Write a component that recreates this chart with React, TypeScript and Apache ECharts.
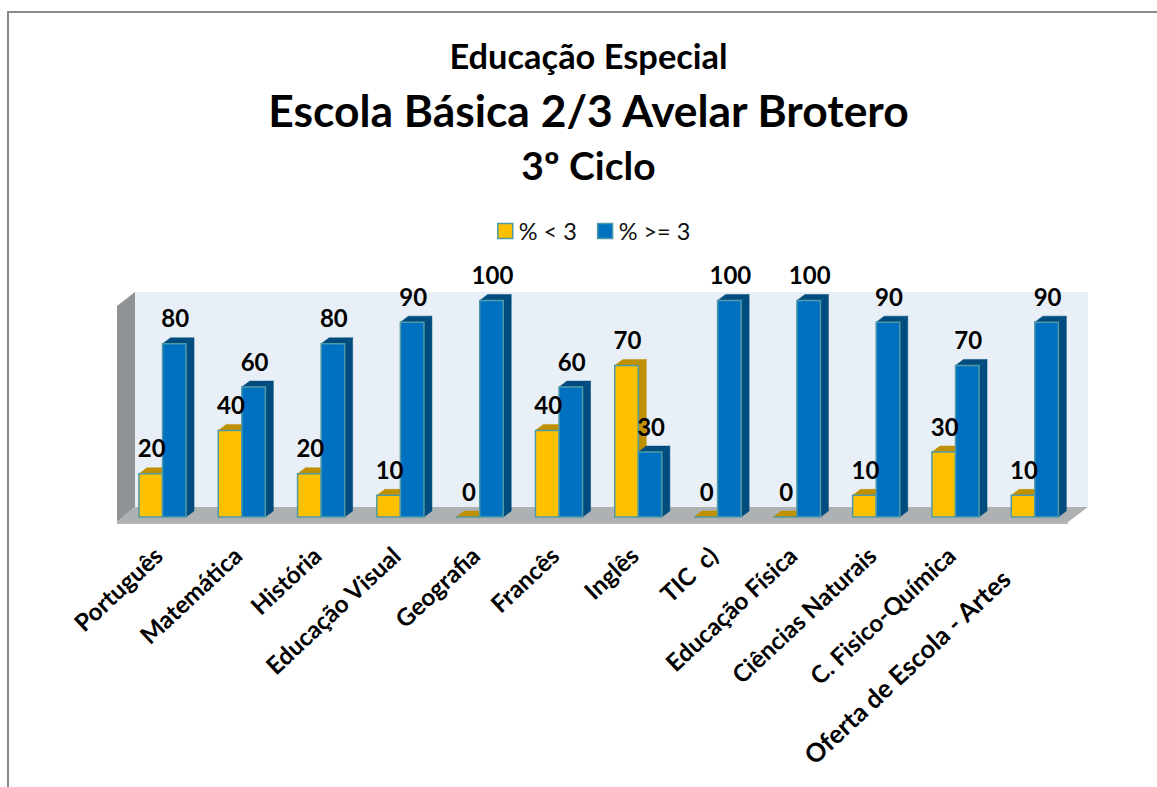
import React, { useEffect, useRef } from "react";
import * as echarts from "echarts";

const categories = ["Português", "Matemática", "História", "Educação Visual", "Geografia", "Francês", "Inglês", "TIC  c)", "Educação Física", "Ciências Naturais", "C. Fisico-Química", "Oferta de Escola - Artes"];
const below3 = [20, 40, 20, 10, 0, 40, 70, 0, 0, 10, 30, 10];
const atLeast3 = [80, 60, 80, 90, 100, 60, 30, 100, 100, 90, 70, 90];
const seriesNames = ["% < 3", "% >= 3"];
const titles = ["Educação Especial", "Escola Básica 2/3 Avelar Brotero", "3º Ciclo"];

const FONT = "Lato";
const DX = 8;
const DY = 6;
const BORDER = "#4F9AA6";

function barItem(side: number, front: string, dark: string) {
  return (params: any, api: any) => {
    const band = api.size([1, 0])[0];
    const w = band * 0.297;
    const cat = api.value(0);
    const top = api.coord([cat, api.value(1)]);
    const base = api.coord([cat, 0]);
    const x = side < 0 ? top[0] - w : top[0];
    const y = top[1];
    const b = base[1];
    const st = { stroke: BORDER, lineWidth: 1.5 };
    return {
      type: "group",
      children: [
        { type: "polygon", shape: { points: [[x, y], [x + DX, y - DY], [x + w + DX, y - DY], [x + w, y]] }, style: { fill: dark, stroke: dark, lineWidth: 0.5 } },
        { type: "polygon", shape: { points: [[x + w, y], [x + w + DX, y - DY], [x + w + DX, b - DY], [x + w, b]] }, style: { fill: dark, stroke: dark, lineWidth: 0.5 } },
        { type: "rect", shape: { x, y, width: w, height: b - y }, style: { fill: front, ...st } },
      ],
    };
  };
}

function labelItem(side: number) {
  return (params: any, api: any) => {
    const band = api.size([1, 0])[0];
    const w = band * 0.297;
    const p = api.coord([api.value(0), api.value(1)]);
    return {
      type: "text",
      x: p[0] + side * w / 2 + 1,
      y: p[1] - 26,
      z2: 100,
      style: { text: String(api.value(1)), fill: "#000", font: `bold 24px ${FONT}`, align: "center", verticalAlign: "middle" },
    };
  };
}

const toData = (values: number[]) => values.map((v, i) => [i, v]);

export default function App() {
  const ref = useRef<HTMLDivElement>(null);
  useEffect(() => {
    document.body.style.margin = "0";
    document.body.style.overflow = "hidden";
    const chart = echarts.init(ref.current!, undefined, { renderer: "svg" });
    const labelFont = { fontFamily: FONT, fontWeight: "bold", fontSize: 24.2, color: "#000" };
    chart.setOption({
      animation: false,
      backgroundColor: "#fff",
      title: [
        { text: titles[0], left: 583.5, top: 50, textAlign: "center", textVerticalAlign: "middle", textStyle: { fontFamily: FONT, fontWeight: "bold", fontSize: 34.4, color: "#000" } },
        { text: titles[1], left: 583.5, top: 104, textAlign: "center", textVerticalAlign: "middle", textStyle: { fontFamily: FONT, fontWeight: "bold", fontSize: 44.4, color: "#000" } },
        { text: titles[2], left: 583.5, top: 160, textAlign: "center", textVerticalAlign: "middle", textStyle: { fontFamily: FONT, fontWeight: "bold", fontSize: 39, color: "#000" } },
      ],
      legend: {
        left: 492,
        top: 214,
        itemWidth: 15,
        itemHeight: 15,
        itemGap: 20,
        icon: "rect",
        textStyle: { fontFamily: FONT, fontSize: 23.5, color: "#111", padding: [0, 0, 0, 1] },
        data: [
          { name: seriesNames[0], itemStyle: { color: "#FFC000", borderColor: BORDER, borderWidth: 1.5 } },
          { name: seriesNames[1], itemStyle: { color: "#0070C0", borderColor: BORDER, borderWidth: 1.5 } },
        ],
      },
      grid: { left: 122.85, width: 951.6, top: 300.5, height: 216.5 },
      xAxis: {
        type: "category",
        data: categories,
        axisLine: { show: false },
        axisTick: { show: false },
        axisLabel: {
          rotate: 43,
          interval: 0,
          margin: 30,
          ...labelFont,
          formatter: (v: string, i: number) => (i === categories.length - 1 ? `{far|${v}}` : `{near|${v}}`),
          rich: {
            far: { padding: [0, 40, 0, 0], ...labelFont, fontSize: 25.6 },
            near: { padding: [0, 6, 0, 0], ...labelFont },
          },
        },
      },
      yAxis: { type: "value", min: 0, max: 100, show: false },
      graphic: [
        { type: "polygon", z: 0, shape: { points: [[135, 292], [1088, 292], [1088, 507], [135, 507]] }, style: { fill: "#E8EFF6" } },
        { type: "polygon", z: 0, shape: { points: [[117, 306], [135, 292], [135, 507], [117, 522]] }, style: { fill: "#8F9396" } },
        { type: "polygon", z: 0, shape: { points: [[117, 522], [135, 507], [1088, 507], [1068, 522]] }, style: { fill: "#AEB1B4" } },
        { type: "line", z: 0, shape: { x1: 117, y1: 523, x2: 1068, y2: 523 }, style: { stroke: "#9A9DA0", lineWidth: 1.5 } },
        { type: "polyline", z: 1, shape: { points: [[8, 787], [8, 12], [1157, 12]] }, style: { fill: "none", stroke: "#8A8A8A", lineWidth: 2 } },
      ],
      series: [
        { type: "custom", name: seriesNames[0], z: 2, renderItem: barItem(-1, "#FFC000", "#BF9000"), data: toData(below3), itemStyle: { color: "#FFC000" } },
        { type: "custom", name: seriesNames[1], z: 3, renderItem: barItem(1, "#0070C0", "#004C7E"), data: toData(atLeast3), itemStyle: { color: "#0070C0" } },
        { type: "custom", z: 5, silent: true, renderItem: labelItem(-1), data: toData(below3) },
        { type: "custom", z: 5, silent: true, renderItem: labelItem(1), data: toData(atLeast3) },
      ],
    });
    return () => chart.dispose();
  }, []);
  return <div ref={ref} style={{ width: 1157, height: 787 }} />;
}
